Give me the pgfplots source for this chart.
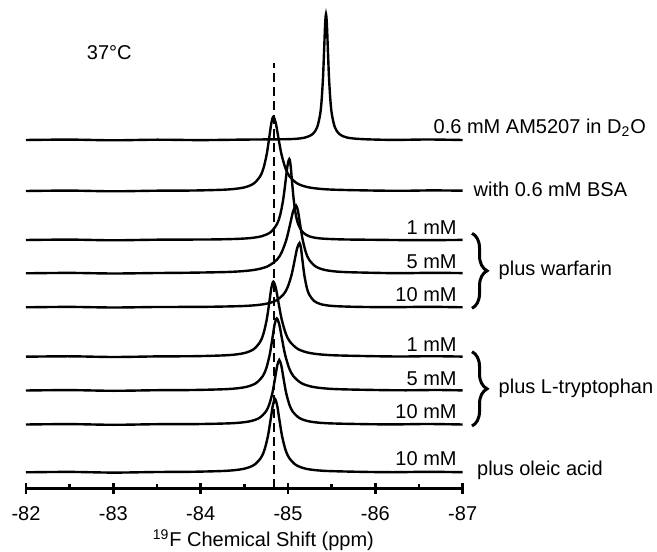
\documentclass[border=0pt]{standalone}
\usepackage{fontspec}
\setmainfont{Liberation Sans}
\usepackage{pgfplots}
\pgfplotsset{compat=1.18}
\usetikzlibrary{decorations.pathreplacing}
\begin{document}
\begin{tikzpicture}
\useasboundingbox (-13pt,-31.35pt) rectangle (315.5pt,244.15pt);
\begin{axis}[
  at={(0,0)}, anchor=south west,
  scale only axis, width=218.35pt, height=244.15pt,
  xmin=-87, xmax=-82, ymin=0, ymax=488.3,
  x dir=reverse,
  axis x line=bottom, axis y line=none, ytick=\empty,
  axis line style={-, line width=1.2pt},
  xtick={-82,-83,-84,-85,-86,-87},
  xticklabels={-82,-83,-84,-85,-86,-87},
  minor xtick={-82.5,-83.5,-84.5,-85.5,-86.5},
  tick align=center,
  major tick length=5.5pt, minor tick length=2pt,
  every tick/.style={black, line width=1.2pt},
  minor x tick style={yshift=1pt},
  xticklabel style={anchor=center, yshift=-10.1pt},
  xlabel={\textsuperscript{19}F Chemical Shift (ppm)},
  xlabel style={at={(axis description cs:0.5436,0)}, anchor=center, yshift=-25.85pt},
  clip=false,
  every axis plot/.append style={black, line width=1.2pt, no marks},
]
% 0.6 mM AM5207 in D2O
\addplot[smooth, tension=0.5] coordinates {(-82,348.3) (-82.5,348.7) (-83,348.0) (-83.5,348.6) (-84,348.2) (-84.5,348.7) (-85.027,349.2) (-85.197,350.8) (-85.282,354.2) (-85.333,360.9) (-85.367,373.5) (-85.384,387.1) (-85.401,411.3) (-85.4146,440.9) (-85.4248,463.8) (-85.435,474.3) (-85.4452,463.8) (-85.4554,440.9) (-85.469,411.3) (-85.486,387.1) (-85.503,373.5) (-85.537,360.9) (-85.588,354.2) (-85.673,350.8) (-85.843,349.2) (-86.2,348.4) (-86.6,348.8) (-87,348.3)};
% with BSA
\addplot[smooth, tension=0.5] coordinates {(-82,297.3) (-82.5,297.7) (-83,297.0) (-83.5,297.6) (-83.932,297.81) (-84.307,298.79) (-84.4945,300.79) (-84.607,304.73) (-84.682,312.16) (-84.7195,320.2) (-84.757,334.45) (-84.787,351.9) (-84.8095,365.4) (-84.832,371.6) (-84.8596,365.4) (-84.8872,351.9) (-84.924,334.45) (-84.970,320.2) (-85.016,312.16) (-85.108,304.73) (-85.246,300.79) (-85.476,298.79) (-85.936,297.81) (-86.3,297.5) (-86.65,297.9) (-87,297.6)};
% warfarin 1 mM
\addplot[smooth, tension=0.5] coordinates {(-82,248.3) (-82.5,248.7) (-83,248.0) (-83.5,248.6) (-84.175,248.9) (-84.525,249.9) (-84.70,252.1) (-84.805,256.4) (-84.875,264.5) (-84.91,273.2) (-84.945,288.8) (-84.973,307.8) (-84.994,322.6) (-85.015,329.3) (-85.03,322.6) (-85.045,307.8) (-85.065,288.8) (-85.09,273.2) (-85.115,264.5) (-85.165,256.4) (-85.24,252.1) (-85.365,249.9) (-85.615,248.9) (-86.0,248.5) (-86.5,248.1) (-87,248.4)};
% warfarin 5 mM
\addplot[smooth, tension=0.5] coordinates {(-82,215.0) (-82.5,215.4) (-83,214.8) (-83.5,215.3) (-83.772,215.47) (-84.322,216.36) (-84.597,218.19) (-84.762,221.78) (-84.872,228.56) (-84.927,235.9) (-84.982,248.9) (-85.026,264.8) (-85.059,277.2) (-85.092,282.8) (-85.1145,277.2) (-85.137,264.8) (-85.167,248.9) (-85.2045,235.9) (-85.242,228.56) (-85.317,221.78) (-85.4295,218.19) (-85.617,216.36) (-85.992,215.47) (-86.3,215.1) (-86.65,215.5) (-87,215.2)};
% warfarin 10 mM
\addplot[smooth, tension=0.5] coordinates {(-82,181.0) (-82.5,181.4) (-83,180.8) (-83.5,181.3) (-84.028,181.44) (-84.488,182.29) (-84.718,184.02) (-84.856,187.43) (-84.948,193.86) (-84.994,200.8) (-85.04,213.15) (-85.0768,228.3) (-85.1044,240.0) (-85.132,245.3) (-85.1485,240.0) (-85.165,228.3) (-85.187,213.15) (-85.2145,200.8) (-85.242,193.86) (-85.297,187.43) (-85.3795,184.02) (-85.517,182.29) (-85.792,181.44) (-86.2,181.1) (-86.6,181.5) (-87,181.0)};
% L-tryptophan 1 mM
\addplot[smooth, tension=0.5] coordinates {(-82,131.6) (-82.5,132.0) (-83,131.3) (-83.5,131.9) (-83.932,132.12) (-84.307,133.1) (-84.4945,135.13) (-84.607,139.1) (-84.682,146.6) (-84.7195,154.7) (-84.757,169.1) (-84.787,186.7) (-84.8095,200.4) (-84.832,206.6) (-84.8605,200.4) (-84.889,186.7) (-84.927,169.1) (-84.9745,154.7) (-85.022,146.6) (-85.117,139.1) (-85.2595,135.13) (-85.497,133.1) (-85.972,132.12) (-86.3,131.8) (-86.65,132.1) (-87,131.7)};
% L-tryptophan 5 mM
\addplot[smooth, tension=0.5] coordinates {(-82,97.8) (-82.5,98.2) (-83,97.5) (-83.5,98.1) (-83.911,98.3) (-84.311,99.24) (-84.511,101.19) (-84.631,105.02) (-84.711,112.24) (-84.751,120.0) (-84.791,133.9) (-84.823,150.9) (-84.847,164.0) (-84.871,170.0) (-84.8995,164.0) (-84.928,150.9) (-84.966,133.9) (-85.0135,120.0) (-85.061,112.24) (-85.156,105.02) (-85.2985,101.19) (-85.536,99.24) (-86.011,98.3) (-86.35,98.0) (-86.7,98.3) (-87,97.9)};
% L-tryptophan 10 mM
\addplot[smooth, tension=0.5] coordinates {(-82,63.8) (-82.5,64.2) (-83,63.5) (-83.5,64.1) (-83.976,64.25) (-84.361,65.09) (-84.5535,66.83) (-84.669,70.25) (-84.746,76.7) (-84.7845,83.7) (-84.823,96.05) (-84.8538,111.2) (-84.8769,122.9) (-84.900,128.3) (-84.9231,122.9) (-84.9462,111.2) (-84.977,96.05) (-85.0155,83.7) (-85.054,76.7) (-85.131,70.25) (-85.2465,66.83) (-85.439,65.09) (-85.824,64.25) (-86.2,63.9) (-86.6,64.3) (-87,63.8)};
% oleic acid 10 mM
\addplot[smooth, tension=0.5] coordinates {(-82,16.0) (-82.5,16.4) (-83,15.7) (-83.5,16.3) (-83.891,16.51) (-84.291,17.47) (-84.491,19.45) (-84.611,23.33) (-84.691,30.66) (-84.731,38.6) (-84.771,52.65) (-84.803,69.9) (-84.827,83.2) (-84.851,89.3) (-84.875,83.2) (-84.899,69.9) (-84.931,52.65) (-84.971,38.6) (-85.011,30.66) (-85.091,23.33) (-85.211,19.45) (-85.411,17.47) (-85.811,16.51) (-86.2,16.1) (-86.6,16.5) (-87,16.1)};
% reference dashed line
\addplot[dash pattern=on 4.5pt off 2.5pt, line width=1.1pt] coordinates {(-84.844,0) (-84.844,425)};

\node[anchor=base, inner sep=0pt] at (axis cs:-82.953,428.3) {37°C};
\node[anchor=base west, inner sep=0pt] at (axis cs:-86.664,355) {0.6 mM AM5207 in D\textsubscript{2}O};
\node[anchor=base west, inner sep=0pt] at (axis cs:-87.122,291.8) {with 0.6 mM BSA};
\node[anchor=base east, inner sep=0pt] at (axis cs:-86.935,253.3) {1 mM};
\node[anchor=base east, inner sep=0pt] at (axis cs:-86.935,220) {5 mM};
\node[anchor=base east, inner sep=0pt] at (axis cs:-86.935,186.6) {10 mM};
\node[anchor=base east, inner sep=0pt] at (axis cs:-86.935,136.6) {1 mM};
\node[anchor=base east, inner sep=0pt] at (axis cs:-86.935,103.3) {5 mM};
\node[anchor=base east, inner sep=0pt] at (axis cs:-86.935,70) {10 mM};
\node[anchor=base east, inner sep=0pt] at (axis cs:-86.935,22.5) {10 mM};
\draw[decorate, decoration={brace, amplitude=7.5pt}, line width=1.5pt] (axis cs:-87.107,255) -- (axis cs:-87.107,180);
\draw[decorate, decoration={brace, amplitude=7.5pt}, line width=1.5pt] (axis cs:-87.107,136.6) -- (axis cs:-87.107,62.3);
\node[anchor=base west, inner sep=0pt] at (axis cs:-87.408,212.5) {plus warfarin};
\node[anchor=base west, inner sep=0pt] at (axis cs:-87.408,95) {plus L-tryptophan};
\node[anchor=base west, inner sep=0pt] at (axis cs:-87.161,12.8) {plus oleic acid};
\end{axis}
\end{tikzpicture}
\end{document}
